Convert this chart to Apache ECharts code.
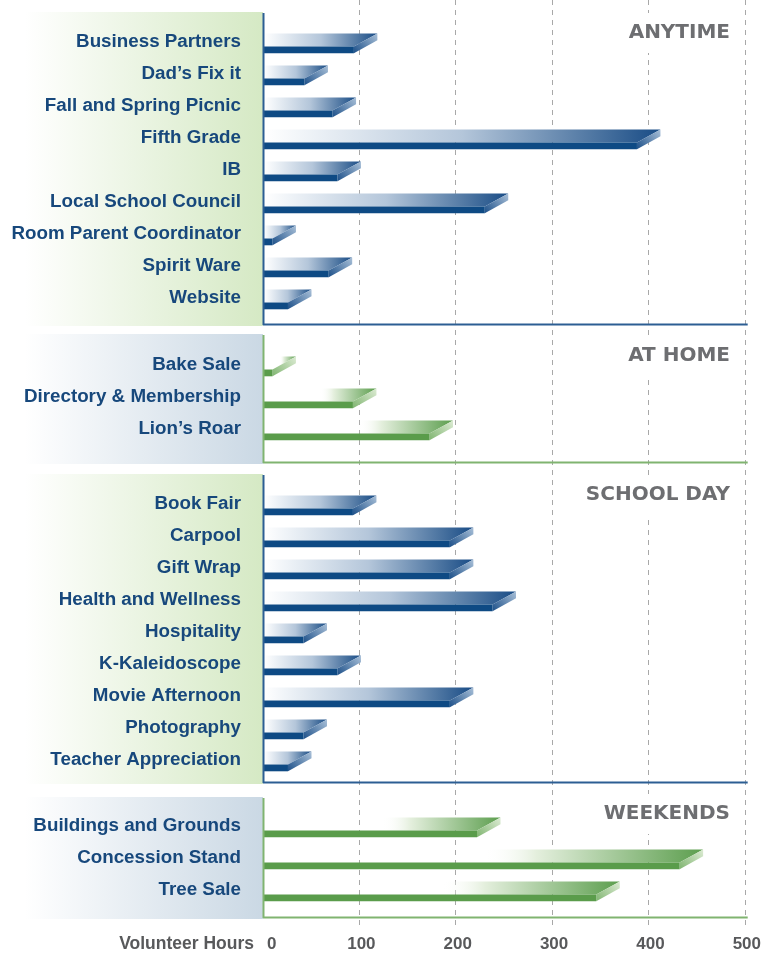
<!DOCTYPE html>
<html><head><meta charset="utf-8">
<script src="https://cdn.jsdelivr.net/npm/echarts@6/dist/echarts.min.js"></script>
<style>html,body{margin:0;padding:0;background:#fff}#c{width:764px;height:953px}</style>
</head><body><div id="c"></div>
<script>
// ---- data ----
const anytimeCats = ['Business Partners', 'Dad\u2019s Fix it', 'Fall and Spring Picnic', 'Fifth Grade', 'IB', 'Local School Council', 'Room Parent Coordinator', 'Spirit Ware', 'Website'];
const anytimeValues = [118, 67, 96, 410, 101, 253, 34, 92, 50];
const atHomeCats = ['Bake Sale', 'Directory & Membership', 'Lion\u2019s Roar'];
const atHomeValues = [34, 117, 196];
const schoolDayCats = ['Book Fair', 'Carpool', 'Gift Wrap', 'Health and Wellness', 'Hospitality', 'K-Kaleidoscope', 'Movie Afternoon', 'Photography', 'Teacher Appreciation'];
const schoolDayValues = [117, 217, 217, 261, 66, 101, 217, 66, 50];
const weekendsCats = ['Buildings and Grounds', 'Concession Stand', 'Tree Sale'];
const weekendsValues = [245, 454, 368];
const sectionTitles = ['ANYTIME', 'AT HOME', 'SCHOOL DAY', 'WEEKENDS'];
const axisTitle = 'Volunteer Hours';
const xMin = 0, xMax = 500, xStep = 100;

// ---- styling / layout ----
const PAL = {
  blue: {
    front: '#0e4a84',
    top: [{offset:0,color:'#ffffff'},{offset:0.1,color:'#f0f4f8'},{offset:0.5,color:'#b4c6da'},{offset:0.82,color:'#5279a4'},{offset:1,color:'#194c86'}],
    side: [{offset:0,color:'#1d5089'},{offset:1,color:'#a9c0d8'}],
    line: '#2c5e93'
  },
  green: {
    front: '#5a9c4b',
    top: [{offset:0,color:'rgba(255,255,255,0)'},{offset:0.5,color:'rgba(255,255,255,0)'},{offset:0.62,color:'#e4efdd'},{offset:1,color:'#5c9e4e'}],
    side: [{offset:0,color:'#80b571'},{offset:1,color:'#dcebd3'}],
    line: '#80b470'
  }
};
const labelBg = { green: '#d5e9c4', blue: '#cad8e4' };

const GL = 263, GW = 484.7;
const sections = [
  { cats: anytimeCats, values: anytimeValues, pal: 'blue', bg: 'green', gridTop: 26, panelTop: 12, panelBottom: 326, titleY: 33 },
  { cats: atHomeCats, values: atHomeValues, pal: 'green', bg: 'blue', gridTop: 349, panelTop: 334, panelBottom: 464, titleY: 356 },
  { cats: schoolDayCats, values: schoolDayValues, pal: 'blue', bg: 'green', gridTop: 488, panelTop: 474, panelBottom: 784, titleY: 495 },
  { cats: weekendsCats, values: weekendsValues, pal: 'green', bg: 'blue', gridTop: 810, panelTop: 797, panelBottom: 919, titleY: 814 }
];
const ROW = 32;

function makeRender(pal) {
  return function (params, api) {
    const v = api.value(0), idx = api.value(1);
    const c0 = api.coord([0, idx]);
    const cb = api.coord([v, idx]);
    const x0 = c0[0] + 1, xb = cb[0], yc = c0[1] - 2;
    const DX = 23.5, yT = yc - 6.5, yF = yc + 6.5, yB = yc + 13.3, sideH = 6.8;
    const xf = Math.max(x0, xb - DX);
    return { type: 'group', children: [
      { type: 'polygon', shape: { points: [[x0, yT], [xb, yT], [xf, yF], [x0, yF]] },
        style: { fill: { type: 'linear', x: 0, y: 0, x2: 1, y2: 0, colorStops: pal.top } } },
      { type: 'polygon', shape: { points: [[xf, yF], [xb, yT], [xb, yT + sideH], [xf, yB]] },
        style: { fill: { type: 'linear', x: 0, y: 1, x2: 1, y2: 0, colorStops: pal.side } } },
      { type: 'rect', shape: { x: x0, y: yF, width: xf - x0, height: yB - yF }, style: { fill: pal.front } }
    ]};
  };
}

const grids = [{ left: GL, width: GW, top: 0, height: 930 }];
const xAxes = [{
  type: 'value', gridIndex: 0, min: xMin, max: xMax, interval: xStep,
  axisLine: { show: false }, axisTick: { show: false },
  axisLabel: { color: '#58595b', fontSize: 17, fontWeight: 'bold', fontFamily: 'Liberation Sans', margin: 7, alignMinLabel: 'left', padding: [0,0,0,4] },
  splitLine: { show: true, showMinLine: false, lineStyle: { color: '#a8a8a8', type: [5, 5], width: 1 } }
}];
const yAxes = [{ type: 'value', gridIndex: 0, show: false }];
const series = [];
const graphics = [];

sections.forEach((s, i) => {
  const gi = i + 1;
  grids.push({ left: GL, width: GW, top: s.gridTop, height: s.cats.length * ROW });
  xAxes.push({ type: 'value', gridIndex: gi, min: xMin, max: xMax, show: false });
  yAxes.push({
    type: 'category', gridIndex: gi, data: s.cats, inverse: true,
    axisLine: { show: false }, axisTick: { show: false }, splitLine: { show: false },
    axisLabel: { color: '#17487c', fontWeight: 'bold', fontSize: 18.8, fontFamily: 'Liberation Sans', margin: 22 }
  });
  series.push({
    type: 'custom', xAxisIndex: gi, yAxisIndex: gi, z: 5,
    renderItem: makeRender(PAL[s.pal]),
    data: s.values.map((v, k) => [v, k])
  });
  const pal = PAL[s.pal];
  graphics.push({
    type: 'rect', z: -1, shape: { x: 25, y: s.panelTop, width: GL - 25, height: s.panelBottom - s.panelTop },
    style: { fill: { type: 'linear', x: 0, y: 0, x2: 1, y2: 0, colorStops: [{ offset: 0, color: '#ffffff' }, { offset: 1, color: labelBg[s.bg] }] } }
  });
  graphics.push({ type: 'line', z: 20, shape: { x1: GL + 0.5, y1: s.panelTop + 1, x2: GL + 0.5, y2: s.panelBottom - 1 }, style: { stroke: pal.line, lineWidth: 2 } });
  graphics.push({ type: 'line', z: 20, shape: { x1: GL, y1: s.panelBottom - 1.5, x2: GL + GW, y2: s.panelBottom - 1.5 }, style: { stroke: pal.line, lineWidth: 2 } });
  graphics.push({
    type: 'text', z: 20, x: 736, y: s.titleY,
    style: { text: sectionTitles[i], fill: '#6d6e71', font: 'bold 20px "DejaVu Sans"', align: 'right', verticalAlign: 'middle', backgroundColor: '#fff', padding: [10, 6, 10, 8] }
  });
});
graphics.push({
  type: 'text', z: 20, x: 254, y: 944,
  style: { text: axisTitle, fill: '#58595b', font: 'bold 17.5px "Liberation Sans"', align: 'right', verticalAlign: 'middle' }
});

const chart = echarts.init(document.getElementById('c'), null, { renderer: 'canvas' });
chart.setOption({
  animation: false,
  backgroundColor: '#fff',
  grid: grids, xAxis: xAxes, yAxis: yAxes, series: series,
  graphic: { elements: graphics }
});
</script></body></html>
